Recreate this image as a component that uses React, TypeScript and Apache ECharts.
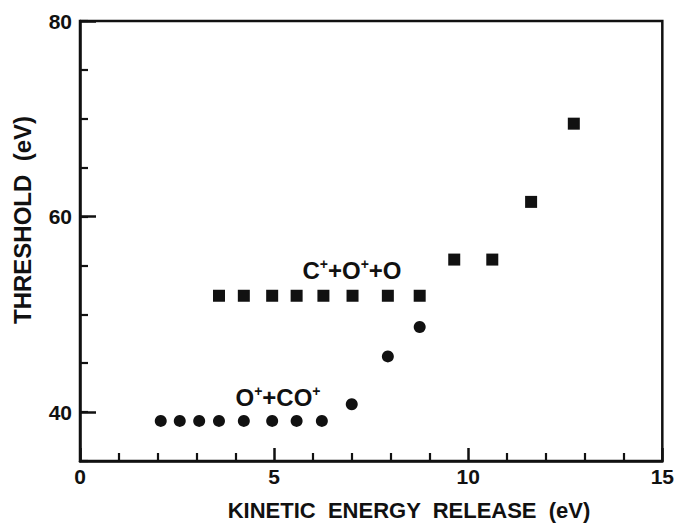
import React, { useEffect, useRef } from "react";
import * as echarts from "echarts";

// O+ + CO+ channel (circles)
const circleX = [2.08, 2.57, 3.07, 3.58, 4.22, 4.95, 5.58, 6.23, 7.0, 7.93, 8.75];
const circleY = [39.1, 39.1, 39.1, 39.1, 39.1, 39.1, 39.1, 39.1, 40.8, 45.7, 48.7];
// C+ + O+ + O channel (squares)
const squareX = [3.58, 4.22, 4.95, 5.58, 6.27, 7.02, 7.93, 8.75, 9.64, 10.62, 11.62, 12.72];
const squareY = [51.9, 51.9, 51.9, 51.9, 51.9, 51.9, 51.9, 51.9, 55.6, 55.6, 61.5, 69.5];

const yLabelValues = [40, 60, 80];
const yMajorTicks = [40, 60, 80];

const FONT = '"Liberation Sans", Arial, Helvetica, sans-serif';
const INK = "#111111";

export default function App() {
  const ref = useRef<HTMLDivElement>(null);
  useEffect(() => {
    if (!ref.current) return;
    const chart = echarts.init(ref.current, undefined, { renderer: "svg" });
    const circles = circleX.map((x, i) => [x, circleY[i]]);
    const squares = squareX.map((x, i) => [x, squareY[i]]);
    chart.setOption({
      animation: false,
      backgroundColor: "#fff",
      textStyle: { fontFamily: FONT },
      grid: {
        left: 80,
        right: 14,
        top: 21,
        bottom: 63,
        show: true,
        borderColor: INK,
        borderWidth: 2.5,
        backgroundColor: "transparent",
      },
      xAxis: {
        type: "value",
        min: 0,
        max: 15,
        interval: 5,
        axisLine: { show: true, lineStyle: { color: INK, width: 2.5 } },
        axisTick: { show: true, inside: true, length: 13, lineStyle: { color: INK, width: 2.5 } },
        minorTick: { show: true, splitNumber: 5, length: 8, lineStyle: { color: INK, width: 2.2 } },
        axisLabel: { color: INK, fontSize: 21, fontWeight: "bold", fontFamily: FONT, margin: 5 },
        splitLine: { show: false },
      },
      yAxis: [
        {
          type: "value",
          min: 35,
          max: 80,
          interval: 5,
          axisLine: { show: true, lineStyle: { color: INK, width: 2.5 } },
          axisTick: { show: true, inside: true, length: 8, lineStyle: { color: INK, width: 2.2 } },
          axisLabel: {
            color: INK,
            fontSize: 21,
            fontWeight: "bold",
            fontFamily: FONT,
            margin: 8,
            customValues: yLabelValues,
          },
          splitLine: { show: false },
        },
        {
          type: "value",
          min: 35,
          max: 80,
          position: "left",
          axisLine: { show: false },
          axisTick: {
            show: true,
            inside: true,
            length: 16,
            customValues: yMajorTicks,
            lineStyle: { color: INK, width: 2.5 },
          },
          axisLabel: { show: false },
          splitLine: { show: false },
        },
      ],
      series: [
        {
          name: "O+ + CO+",
          type: "scatter",
          symbol: "circle",
          symbolSize: 12,
          itemStyle: { color: INK, opacity: 1 },
          data: circles,
        },
        {
          name: "C+ + O+ + O",
          type: "scatter",
          symbol: "rect",
          symbolSize: 12,
          itemStyle: { color: INK, opacity: 1 },
          data: squares,
        },
      ],
      graphic: [
        {
          type: "text",
          x: 22,
          y: 220,
          rotation: Math.PI / 2,
          style: {
            text: "THRESHOLD  (eV)",
            fontSize: 24,
            fontWeight: "bold",
            fontFamily: FONT,
            fill: INK,
            align: "center",
            verticalAlign: "middle",
          },
        },
        {
          type: "text",
          x: 409,
          y: 510,
          style: {
            text: "KINETIC  ENERGY  RELEASE  (eV)",
            fontSize: 22,
            fontWeight: "bold",
            fontFamily: FONT,
            fill: INK,
            align: "center",
            verticalAlign: "middle",
          },
        },
        {
          type: "text",
          x: 352,
          y: 270,
          style: {
            text: "C{s|+}+O{s|+}+O",
            fontSize: 24,
            fontWeight: "bold",
            fontFamily: FONT,
            fill: INK,
            align: "center",
            verticalAlign: "middle",
            rich: {
              s: { fontSize: 14, fontWeight: "bold", fontFamily: FONT, fill: INK, padding: [0, 0, 12, 0] },
            },
          },
        },
        {
          type: "text",
          x: 278,
          y: 397,
          style: {
            text: "O{s|+}+CO{s|+}",
            fontSize: 24,
            fontWeight: "bold",
            fontFamily: FONT,
            fill: INK,
            align: "center",
            verticalAlign: "middle",
            rich: {
              s: { fontSize: 14, fontWeight: "bold", fontFamily: FONT, fill: INK, padding: [0, 0, 12, 0] },
            },
          },
        },
      ],
    });
    return () => chart.dispose();
  }, []);
  return (
    <div
      ref={ref}
      style={{ position: "fixed", left: 0, top: 0, width: 677, height: 524, background: "#fff" }}
    />
  );
}
